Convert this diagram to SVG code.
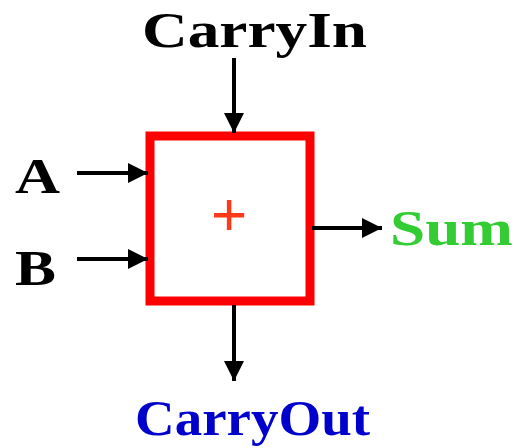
<svg xmlns="http://www.w3.org/2000/svg" width="515" height="448" viewBox="0 0 515 448">
<style>
.lbl{font-family:'Liberation Serif','Times New Roman',serif;font-weight:700;font-size:50px}
.wire{stroke:#000;stroke-width:4;fill:none;marker-end:url(#ah)}
</style>
<defs>
<marker id="ah" viewBox="0 0 10 10" refX="10" refY="5" markerWidth="5" markerHeight="5" markerUnits="strokeWidth" orient="auto">
<path d="M0,0 L10,5 L0,10 z" fill="#000"/>
</marker>
</defs>
<rect width="515" height="448" fill="#fff"/>
<g id="adder">
<rect x="150" y="136" width="160" height="165" fill="#fff" stroke="#ff0000" stroke-width="9"/>
<text x="229" y="235" text-anchor="middle" font-family="Liberation Sans, Arial, sans-serif" font-size="62" fill="#ff3a1a">+</text>
</g>
<g id="labels">
<text id="carryin" class="lbl" x="142" y="47" textLength="225" lengthAdjust="spacingAndGlyphs" fill="#000">CarryIn</text>
<text id="a" class="lbl" x="15" y="193" textLength="45" lengthAdjust="spacingAndGlyphs" fill="#000">A</text>
<text id="b" class="lbl" x="15" y="285" textLength="41" lengthAdjust="spacingAndGlyphs" fill="#000">B</text>
<text id="sum" class="lbl" x="390" y="245" textLength="123" lengthAdjust="spacingAndGlyphs" fill="#33cc33">Sum</text>
<text id="carryout" class="lbl" x="135" y="435" textLength="235" lengthAdjust="spacingAndGlyphs" fill="#0000cc">CarryOut</text>
</g>
<g id="connectors">
<line class="wire" x1="234" y1="58" x2="234" y2="133"/>
<line class="wire" x1="77" y1="173" x2="148" y2="173"/>
<line class="wire" x1="77" y1="259" x2="148" y2="259"/>
<line class="wire" x1="312" y1="228" x2="382" y2="228"/>
<line class="wire" x1="234" y1="305" x2="234" y2="381"/>
</g>
</svg>
